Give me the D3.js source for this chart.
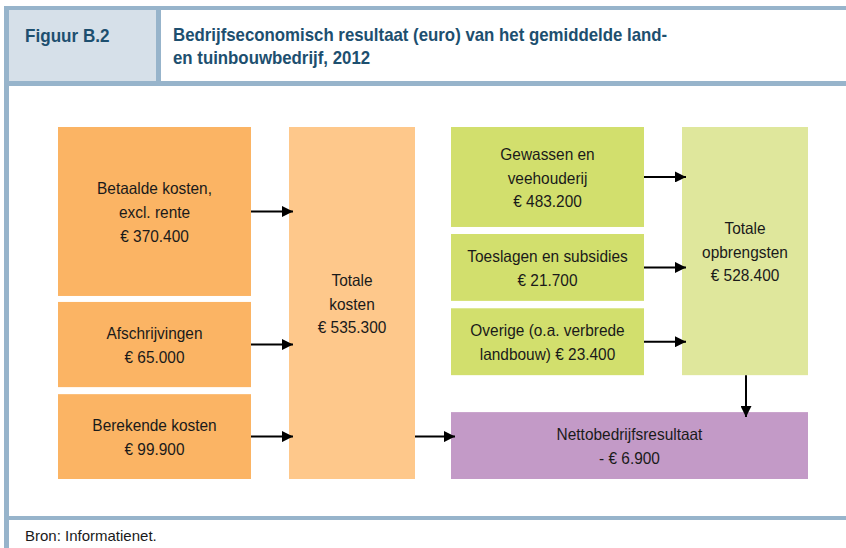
<!DOCTYPE html>
<html>
<head>
<meta charset="utf-8">
<script src="https://cdn.jsdelivr.net/npm/d3@7"></script>
<style>
  body { margin: 0; background: #fff; }
  svg { display: block; }
  text { font-family: "Liberation Sans Narrow", "Arial Narrow", "Liberation Sans", sans-serif; }
  .box-label { font-size: 16.5px; fill: #1a1a1a; }
</style>
</head>
<body>
<div id="chart"></div>
<script>
var figureNumber = "Figuur B.2";
var titleLines = ["Bedrijfseconomisch resultaat (euro) van het gemiddelde land-",
                  "en tuinbouwbedrijf, 2012"];
var sourceNote = "Bron: Informatienet.";

// costs side
var costLabels = [["Betaalde kosten,", "excl. rente"], ["Afschrijvingen"], ["Berekende kosten"]];
var costValues = ["€ 370.400", "€ 65.000", "€ 99.900"];
var totalCostLabel = ["Totale", "kosten"];
var totalCostValue = "€ 535.300";

// revenue side
var revenueLabels = [["Gewassen en", "veehouderij"], ["Toeslagen en subsidies"], ["Overige (o.a. verbrede"]];
var revenueValues = ["€ 483.200", "€ 21.700", "landbouw) € 23.400"];
var totalRevenueLabel = ["Totale", "opbrengsten"];
var totalRevenueValue = "€ 528.400";

var resultLabel = ["Nettobedrijfsresultaat"];
var resultValue = "- € 6.900";

var width = 846, height = 548;
var frameColor = "#97b4cb";
var squeeze = 0.935; // no narrow font installed, so compress horizontally

var svg = d3.select("#chart").append("svg")
    .attr("width", width)
    .attr("height", height);

function narrowText(parent, x, y, str, sx) {
    return parent.append("text")
        .attr("transform", "translate(" + x + "," + y + ") scale(" + sx + ",1)")
        .text(str);
}

// ---- frame ----
svg.append("rect").attr("x", 9).attr("y", 10).attr("width", 147).attr("height", 71).attr("fill", "#d6e0e9");
svg.append("rect").attr("x", 4).attr("y", 6).attr("width", width - 4).attr("height", 4).attr("fill", frameColor);
svg.append("rect").attr("x", 4).attr("y", 81).attr("width", width - 4).attr("height", 5).attr("fill", frameColor);
svg.append("rect").attr("x", 156).attr("y", 10).attr("width", 5).attr("height", 71).attr("fill", frameColor);
svg.append("rect").attr("x", 4).attr("y", 516).attr("width", width - 4).attr("height", 4).attr("fill", frameColor);
svg.append("rect").attr("x", 4).attr("y", 6).attr("width", 5).attr("height", height - 6).attr("fill", frameColor);

narrowText(svg, 25, 42, figureNumber, 0.95)
    .style("font-size", "18px").style("font-weight", "bold")
    .attr("fill", "#1d4f6f");

titleLines.forEach(function (t, i) {
    narrowText(svg, 173, 41 + i * 23, t, 0.935)
        .style("font-size", "18px").style("font-weight", "bold")
        .attr("fill", "#1d4f6f");
});

narrowText(svg, 25, 541, sourceNote, 1)
    .style("font-size", "15px")
    .attr("fill", "#1a1a1a");

// ---- layout scales ----
// four columns: cost items, total costs, revenue items, total revenue
var colX = d3.scaleOrdinal().domain([0, 1, 2, 3]).range([58, 289, 451, 682]);
var colW = d3.scaleOrdinal().domain([0, 1, 2, 3]).range([193, 126, 193, 126]);
var y = d3.scaleLinear().domain([0, 1]).range([127, 479]);

var nodes = [];
var costRows = [[0, 0.48], [0.497, 0.739], [0.759, 1]];
costLabels.forEach(function (l, i) {
    nodes.push({ id: "c" + i, col: 0, y0: costRows[i][0], y1: costRows[i][1], lines: l.concat([costValues[i]]), fill: "#fbb464" });
});
nodes.push({ id: "tc", col: 1, y0: 0, y1: 1, lines: totalCostLabel.concat([totalCostValue]), fill: "#fec88b" });
var revRows = [[0, 0.284], [0.304, 0.494], [0.515, 0.705]];
revenueLabels.forEach(function (l, i) {
    nodes.push({ id: "r" + i, col: 2, y0: revRows[i][0], y1: revRows[i][1], lines: l.concat([revenueValues[i]]), fill: "#d2df6d" });
});
nodes.push({ id: "tr", col: 3, y0: 0, y1: 0.705, lines: totalRevenueLabel.concat([totalRevenueValue]), fill: "#dfe79c" });
nodes.push({ id: "net", col: 2, span: 2, y0: 0.81, y1: 1, lines: resultLabel.concat([resultValue]), fill: "#c39ac7" });

nodes.forEach(function (n) {
    n.x = colX(n.col);
    n.w = n.span ? colX(n.col + n.span - 1) + colW(n.col + n.span - 1) - n.x : colW(n.col);
    n.top = y(n.y0);
    n.h = y(n.y1) - y(n.y0);
});

var node = svg.append("g").selectAll("g")
    .data(nodes)
    .enter().append("g");

node.append("rect")
    .attr("x", function (d) { return d.x; })
    .attr("y", function (d) { return d.top; })
    .attr("width", function (d) { return d.w; })
    .attr("height", function (d) { return d.h; })
    .attr("fill", function (d) { return d.fill; });

var lineH = 23.8;
node.each(function (d) {
    var g = d3.select(this);
    var cy = d.top + d.h / 2;
    var n = d.lines.length;
    d.lines.forEach(function (t, i) {
        narrowText(g, d.x + d.w / 2, cy + (i - (n - 1) / 2) * lineH, t, squeeze)
            .attr("class", "box-label")
            .attr("dy", "0.4em")
            .attr("text-anchor", "middle");
    });
});

// ---- arrows ----
var defs = svg.append("defs");
defs.append("marker")
    .attr("id", "arrow")
    .attr("viewBox", "0 0 10 10")
    .attr("refX", 10).attr("refY", 5)
    .attr("markerWidth", 5.5).attr("markerHeight", 5.5)
    .attr("markerUnits", "strokeWidth")
    .attr("orient", "auto")
    .append("path")
    .attr("d", "M0,0L10,5L0,10Z")
    .attr("fill", "#000");

var byId = {};
nodes.forEach(function (n) { byId[n.id] = n; });

var links = [
    { s: "c0", t: "tc", ys: "c0" }, { s: "c1", t: "tc", ys: "c1" }, { s: "c2", t: "tc", ys: "c2" },
    { s: "tc", t: "net", ys: "c2" },
    { s: "r0", t: "tr", ys: "r0" }, { s: "r1", t: "tr", ys: "r1" }, { s: "r2", t: "tr", ys: "r2" }
];

svg.append("g").selectAll("line")
    .data(links)
    .enter().append("line")
    .attr("x1", function (d) { return byId[d.s].x + byId[d.s].w; })
    .attr("x2", function (d) { return byId[d.t].x + 4; })
    .attr("y1", function (d) { var n = byId[d.ys]; return n.top + n.h / 2; })
    .attr("y2", function (d) { var n = byId[d.ys]; return n.top + n.h / 2; })
    .attr("stroke", "#000")
    .attr("stroke-width", 2)
    .attr("marker-end", "url(#arrow)");

// total revenue down to net result
var tr = byId.tr, net = byId.net;
svg.append("line")
    .attr("x1", tr.x + tr.w / 2 + 1).attr("x2", tr.x + tr.w / 2 + 1)
    .attr("y1", tr.top + tr.h)
    .attr("y2", net.top + 5)
    .attr("stroke", "#000")
    .attr("stroke-width", 2)
    .attr("marker-end", "url(#arrow)");
</script>
</body>
</html>
